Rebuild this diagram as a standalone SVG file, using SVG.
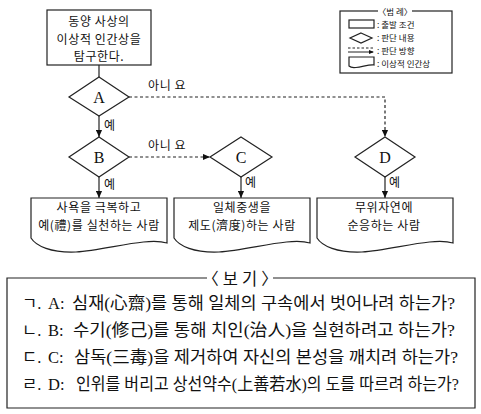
<svg xmlns="http://www.w3.org/2000/svg" width="481" height="414" viewBox="0 0 481 414">
<defs>
<style>
.sh{fill:#fff;stroke:#222;stroke-width:1.2}
.ln{fill:none;stroke:#222;stroke-width:1.2}
.dot{fill:none;stroke:#222;stroke-width:1.2;stroke-dasharray:3 2.5}
.t{font-family:"Noto Sans CJK KR","Noto Sans",sans-serif;font-size:12px;letter-spacing:0.6px;fill:#111}
.tl{font-family:"Liberation Serif","Noto Sans CJK KR",serif;font-size:16px;fill:#111}
.lg{font-family:"Noto Sans CJK KR",sans-serif;font-size:8.5px;fill:#111}
.bk{font-family:"Liberation Serif","Noto Sans CJK KR",serif;font-size:16.5px;fill:#111}
</style>
<marker id="ah" viewBox="0 0 8 8" refX="8" refY="4" markerWidth="7" markerHeight="7" markerUnits="userSpaceOnUse" orient="auto">
<path d="M0,0.5 L8,4 L0,7.5 Z" fill="#111"/>
</marker>
<path id="doc" d="M0,0 H136 V45 C116,39 76,52 45,54 C20,55 5,48 0,40 Z"/>
</defs>

<g id="connectors">
<line class="ln" x1="99" y1="65" x2="99" y2="77"/>
<line class="ln" x1="99" y1="116" x2="99" y2="137" marker-end="url(#ah)"/>
<line class="ln" x1="99" y1="177" x2="99" y2="198" marker-end="url(#ah)"/>
<line class="ln" x1="241" y1="177" x2="241" y2="198" marker-end="url(#ah)"/>
<line class="ln" x1="385" y1="177" x2="385" y2="198" marker-end="url(#ah)"/>
<polyline class="dot" points="129,97 385,97 385,137" marker-end="url(#ah)"/>
<line class="dot" x1="129" y1="157" x2="210" y2="157" marker-end="url(#ah)"/>
<text class="t" x="148" y="90">아니 요</text>
<text class="t" x="148" y="150">아니 요</text>
<text class="t" x="104" y="130">예</text>
<text class="t" x="104" y="189">예</text>
<text class="t" x="245" y="187">예</text>
<text class="t" x="389" y="187">예</text>
</g>

<g id="start">
<rect class="sh" x="47" y="10" width="104" height="55"/>
<text class="t" text-anchor="middle" x="99" y="26">동양 사상의</text>
<text class="t" text-anchor="middle" x="99" y="43.5">이상적 인간상을</text>
<text class="t" text-anchor="middle" x="99" y="61">탐구한다.</text>
</g>

<g id="nodeA">
<polygon class="sh" points="99,77 129,97 99,116 69,97"/>
<text class="tl" text-anchor="middle" x="99" y="103">A</text>
</g>
<g id="nodeB">
<polygon class="sh" points="99,137 129,157 99,177 69,157"/>
<text class="tl" text-anchor="middle" x="99" y="163">B</text>
</g>
<g id="nodeC">
<polygon class="sh" points="241,137 272,157 241,177 210,157"/>
<text class="tl" text-anchor="middle" x="241" y="163">C</text>
</g>
<g id="nodeD">
<polygon class="sh" points="385,137 415,157 385,177 355,157"/>
<text class="tl" text-anchor="middle" x="385" y="163">D</text>
</g>

<g id="doc1">
<use href="#doc" class="sh" x="31" y="198"/>
<text class="t" text-anchor="middle" x="99" y="212">사욕을 극복하고</text>
<text class="t" text-anchor="middle" x="99" y="230">예(禮)를 실천하는 사람</text>
</g>
<g id="doc2">
<use href="#doc" class="sh" x="174" y="198"/>
<text class="t" text-anchor="middle" x="242" y="212">일체중생을</text>
<text class="t" text-anchor="middle" x="242" y="230">제도(濟度)하는 사람</text>
</g>
<g id="doc3">
<use href="#doc" class="sh" x="317" y="198"/>
<text class="t" text-anchor="middle" x="384" y="212">무위자연에</text>
<text class="t" text-anchor="middle" x="384" y="230">순응하는 사람</text>
</g>

<g id="legend">
<rect class="sh" x="340" y="11" width="112" height="62"/>
<rect x="378" y="6" width="34" height="10" fill="#fff"/>
<text class="lg" text-anchor="middle" x="395" y="14.5">〈범 례〉</text>
<rect class="sh" x="349" y="20" width="25" height="8"/>
<text class="lg" x="377" y="28">: 출발 조건</text>
<polygon class="sh" points="361,33 372,38 361,43 350,38"/>
<text class="lg" x="377" y="41">: 판단 내용</text>
<line x1="348" y1="48" x2="373" y2="48" stroke="#222" stroke-width="1" stroke-dasharray="2.5 2"/>
<line x1="348" y1="52" x2="373" y2="52" stroke="#222" stroke-width="1"/>
<path d="M369,50 L374,52 L369,54 Z" fill="#111"/>
<text class="lg" x="377" y="54">: 판단 방향</text>
<path class="sh" d="M349,57 H374 V65 C370,64 362,67 356,67.5 C352,68 350,67 349,66 Z"/>
<text class="lg" x="377" y="67">: 이상적 인간상</text>
</g>

<g id="bogi">
<path class="ln" d="M207,278 H7 V408 H475 V278 H273"/>
<text class="bk" text-anchor="middle" x="240" y="285">〈 보 기 〉</text>
<text class="bk" x="22" y="309">ㄱ.</text>
<text class="bk" x="48" y="309">A:</text>
<text class="bk" x="72" y="309" textLength="383" lengthAdjust="spacingAndGlyphs">심재(心齋)를 통해 일체의 구속에서 벗어나려 하는가?</text>
<text class="bk" x="22" y="336">ㄴ.</text>
<text class="bk" x="48" y="336">B:</text>
<text class="bk" x="73" y="336" textLength="382" lengthAdjust="spacingAndGlyphs">수기(修己)를 통해 치인(治人)을 실현하려고 하는가?</text>
<text class="bk" x="22" y="363">ㄷ.</text>
<text class="bk" x="48" y="363">C:</text>
<text class="bk" x="74" y="363" textLength="384" lengthAdjust="spacingAndGlyphs">삼독(三毒)을 제거하여 자신의 본성을 깨치려 하는가?</text>
<text class="bk" x="22" y="390">ㄹ.</text>
<text class="bk" x="48" y="390">D:</text>
<text class="bk" x="76" y="390" textLength="383" lengthAdjust="spacingAndGlyphs">인위를 버리고 상선약수(上善若水)의 도를 따르려 하는가?</text>
</g>
</svg>
